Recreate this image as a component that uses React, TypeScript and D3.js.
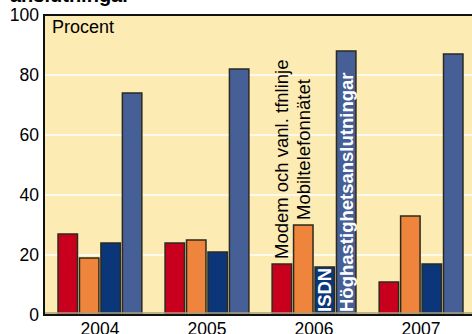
import React from "react";
import * as d3 from "d3";

const years = ["2004", "2005", "2006", "2007"];
const seriesNames = [
  "Modem och vanl. tfnlinje",
  "Mobiltelefonnätet",
  "ISDN",
  "Höghastighetsanslutningar",
];
const modem = [27, 24, 17, 11];
const mobil = [19, 25, 30, 33];
const isdn = [24, 21, 16, 17];
const hog = [74, 82, 88, 87];
const yTicks = [0, 20, 40, 60, 80, 100];
const colors = ["#C8001E", "#EF843C", "#0B377A", "#465F96"];

const W = 472;
const H = 334;
const M = { left: 44, right: 477, top: 15, bottom: 315 };
const FONT = "'Liberation Sans', Arial, sans-serif";

export default function App() {
  const series = [modem, mobil, isdn, hog];
  const x0 = d3
    .scaleBand<string>()
    .domain(years)
    .range([M.left, M.right])
    .paddingInner(0.217)
    .paddingOuter(0.131);
  const x1 = d3
    .scaleBand<number>()
    .domain([0, 1, 2, 3])
    .range([0, x0.bandwidth()])
    .paddingInner(0.093)
    .paddingOuter(0);
  const y = d3.scaleLinear().domain([0, 100]).range([M.bottom, M.top]);

  const labelIdx = 2; // 2006 group
  const gx = x0(years[labelIdx])!;

  return (
    <svg
      width={W}
      height={H}
      style={{ position: "fixed", left: 0, top: 0, background: "#fff" }}
      fontFamily={FONT}
    >
      <text x={10} y={2} fontSize={20} fontWeight="bold" fill="#000">
        anslutningar
      </text>
      <rect
        x={M.left}
        y={M.top}
        width={M.right - M.left}
        height={M.bottom - M.top}
        fill="#FDEBB4"
      />
      {yTicks
        .filter((t) => t > 0 && t < 100)
        .map((t) => (
          <line
            key={t}
            x1={M.left}
            x2={M.right}
            y1={y(t)}
            y2={y(t)}
            stroke="#fff"
            strokeWidth={1.5}
          />
        ))}
      <text x={52} y={33} fontSize={18} fill="#000">
        Procent
      </text>
      {years.map((yr, gi) =>
        series.map((s, si) => (
          <rect
            key={yr + si}
            x={x0(yr)! + x1(si)!}
            y={y(s[gi])}
            width={x1.bandwidth()}
            height={y(0) - y(s[gi])}
            fill={colors[si]}
            stroke="#2A2A1E"
            strokeWidth={1.5}
          />
        ))
      )}
      {/* series labels in 2006 group */}
      {[0, 1].map((si) => {
        const cx = gx + x1(si)! + x1.bandwidth() / 2;
        const y0 = y(series[si][labelIdx]) - 5;
        return (
          <text
            key={si}
            transform={`translate(${cx + 6.5},${y0}) rotate(-90)`}
            fontSize={18.5}
            fill="#000"
          >
            {seriesNames[si]}
          </text>
        );
      })}
      {[2, 3].map((si) => {
        const cx = gx + x1(si)! + x1.bandwidth() / 2;
        const y0 = y(0) - 3;
        return (
          <text
            key={si}
            transform={`translate(${cx + 6.5},${y0}) rotate(-90)`}
            fontSize={18.5}
            fontWeight="bold"
            fill="#fff"
          >
            {seriesNames[si]}
          </text>
        );
      })}
      <line x1={M.left} x2={M.right} y1={M.bottom - 2} y2={M.bottom - 2} stroke="#A89F80" strokeWidth={1.5} />
      <rect
        x={M.left}
        y={M.top}
        width={M.right - M.left}
        height={M.bottom - M.top}
        fill="none"
        stroke="#111"
        strokeWidth={2}
      />
      {yTicks.map((t) => (
        <text
          key={t}
          x={39}
          y={y(t)}
          dy="0.35em"
          textAnchor="end"
          fontSize={17.5}
          fill="#000"
        >
          {t}
        </text>
      ))}
      {years.map((yr) => (
        <text
          key={yr}
          x={x0(yr)! + x0.bandwidth() / 2}
          y={335}
          textAnchor="middle"
          fontSize={17.5}
          fill="#000"
        >
          {yr}
        </text>
      ))}
    </svg>
  );
}
